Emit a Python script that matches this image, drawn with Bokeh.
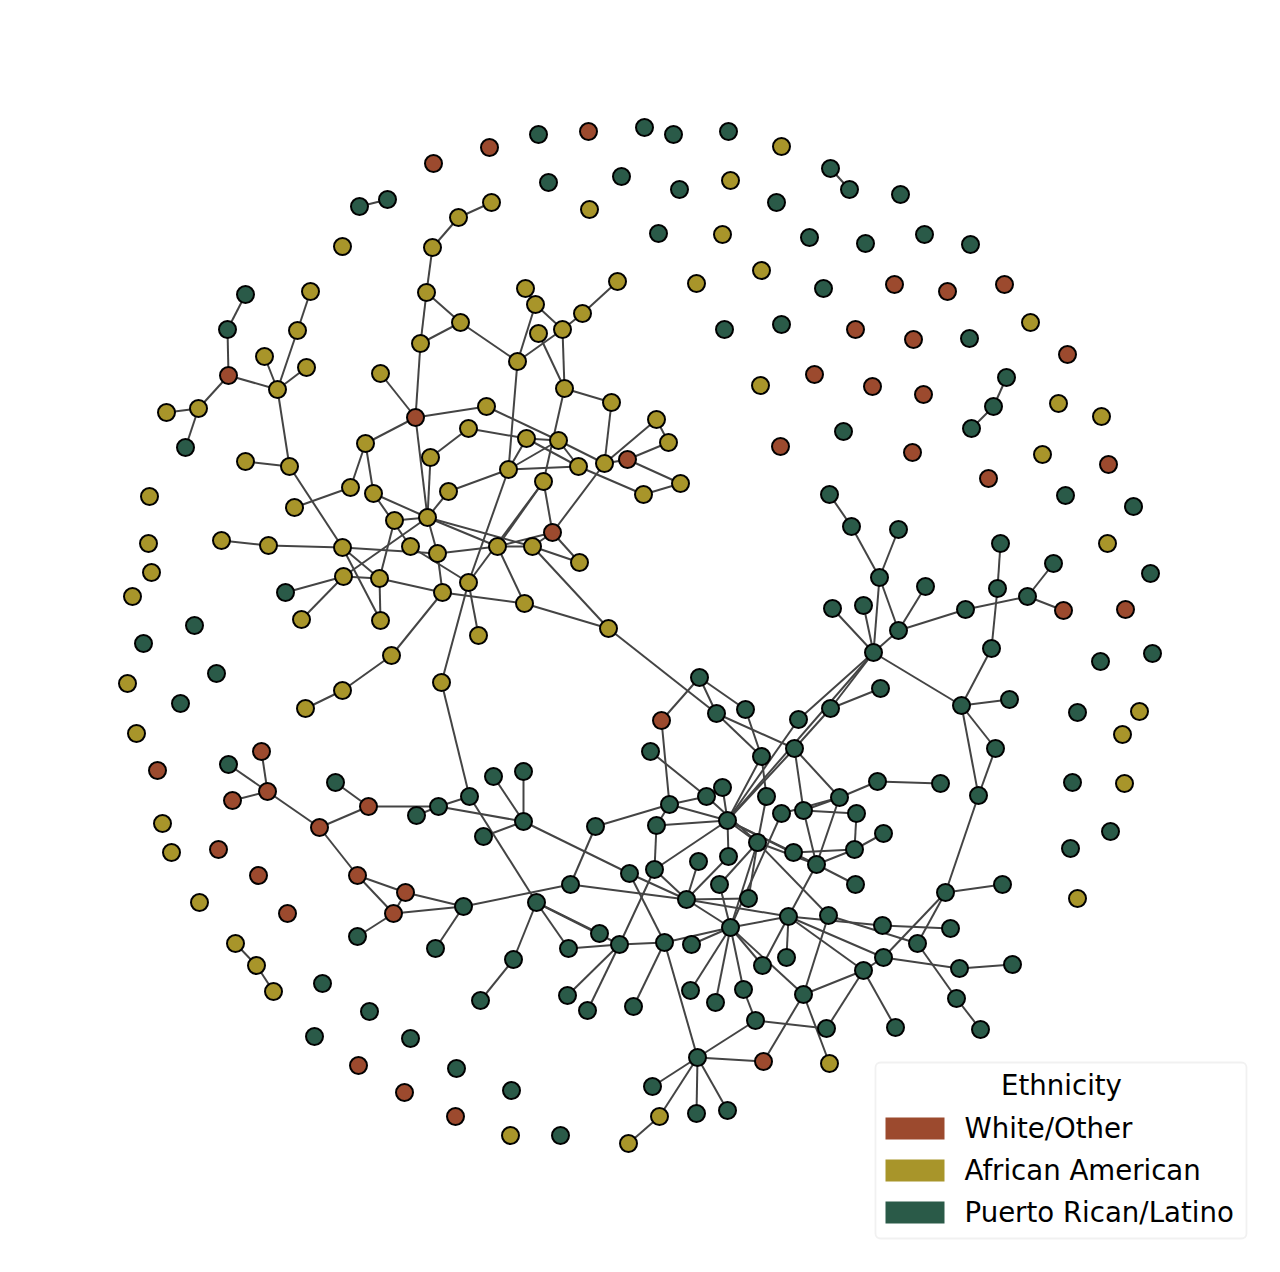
from bokeh.plotting import figure
from bokeh.models import Range1d, BoxAnnotation, Label
from bokeh.embed import file_html
from bokeh.resources import INLINE

# ---- categories / legend ----
eth_labels = ["White/Other", "African American", "Puerto Rican/Latino"]
eth_colors = ["#9c4a2e", "#a8952a", "#2a5a48"]

# ---- node layout (layout coordinates) ----
white_x = [433, 489, 588, 415, 228, 627, 552, 780, 894, 947, 1004, 855, 913, 1067, 814, 872, 923, 912, 1108, 988,
           1063, 1125, 661, 157, 261, 267, 232, 319, 368, 218, 258, 287, 357, 405, 393, 358, 404, 455, 763]
white_y = [163, 147, 131, 417, 375, 459, 532, 446, 284, 291, 284, 329, 339, 354, 374, 386, 394, 452, 464, 478,
           610, 609, 720, 770, 751, 791, 800, 827, 806, 849, 875, 913, 875, 892, 913, 1065, 1092, 1116, 1061]

african_x = [432, 458, 491, 426, 460, 420, 380, 486, 468, 430, 365, 350, 373, 394, 427, 448, 410, 437, 342, 343,
             379, 442, 468, 380, 301, 289, 294, 268, 221, 245, 277, 264, 306, 297, 310, 198, 166, 391, 342, 305,
             441, 478, 524, 497, 532, 579, 608, 508, 526, 558, 578, 604, 543, 643, 680, 656, 668, 611, 564, 517,
             525, 535, 538, 562, 582, 617, 342, 781, 730, 589, 722, 761, 696, 760, 1030, 1058, 1101, 1042, 1107, 1139,
             1122, 1124, 1077, 149, 148, 151, 132, 127, 136, 162, 171, 199, 235, 256, 273, 510, 628, 659, 829]
african_y = [247, 217, 202, 292, 322, 343, 373, 406, 428, 457, 443, 487, 493, 520, 517, 491, 546, 553, 547, 576,
             578, 592, 582, 620, 619, 466, 507, 545, 540, 461, 389, 356, 367, 330, 291, 408, 412, 655, 690, 708,
             682, 635, 603, 546, 546, 562, 628, 469, 438, 440, 466, 463, 481, 494, 483, 419, 442, 402, 388, 361,
             288, 304, 333, 329, 313, 281, 246, 146, 180, 209, 234, 270, 283, 385, 322, 403, 416, 454, 543, 711,
             734, 783, 898, 496, 543, 572, 596, 683, 733, 823, 852, 902, 943, 965, 991, 1135, 1143, 1116, 1063]

latino_x = [359, 387, 538, 644, 673, 728, 548, 621, 679, 776, 658, 724, 781, 830, 849, 900, 809, 865, 924, 970,
            823, 969, 1006, 993, 971, 843, 1065, 1133, 1150, 1100, 1152, 1077, 1072, 1110, 1070, 245, 227, 185, 285, 143,
            194, 216, 180, 228, 335, 322, 369, 314, 410, 456, 511, 560, 652, 696, 727, 438, 416, 469, 493, 523,
            523, 483, 463, 357, 435, 536, 570, 595, 513, 480, 568, 599, 619, 567, 587, 633, 664, 691, 690, 715,
            743, 755, 697, 762, 786, 730, 788, 828, 803, 826, 863, 883, 895, 882, 917, 950, 945, 1002, 959, 1012,
            956, 980, 629, 654, 686, 719, 748, 698, 728, 757, 727, 722, 706, 669, 656, 650, 699, 716, 745, 761,
            794, 798, 830, 880, 766, 781, 803, 839, 877, 940, 856, 854, 883, 793, 816, 855, 829, 851, 898, 879,
            925, 832, 863, 898, 873, 965, 1027, 1053, 1000, 997, 991, 961, 1009, 995, 978]
latino_y = [206, 199, 134, 127, 134, 131, 182, 176, 189, 202, 233, 329, 324, 168, 189, 194, 237, 243, 234, 244,
            288, 338, 377, 406, 428, 431, 495, 506, 573, 661, 653, 712, 782, 831, 848, 294, 329, 447, 592, 643,
            625, 673, 703, 764, 782, 983, 1011, 1036, 1038, 1068, 1090, 1135, 1086, 1113, 1110, 806, 815, 796, 776, 771,
            821, 836, 906, 936, 948, 902, 884, 826, 959, 1000, 948, 933, 944, 995, 1010, 1006, 942, 944, 990, 1002,
            989, 1020, 1057, 965, 957, 927, 916, 915, 994, 1028, 970, 957, 1027, 925, 943, 928, 892, 884, 968, 964,
            998, 1029, 873, 869, 899, 884, 898, 861, 856, 842, 820, 787, 796, 804, 825, 751, 677, 713, 709, 756,
            748, 719, 708, 688, 796, 813, 810, 797, 781, 783, 813, 849, 833, 852, 864, 884, 494, 526, 529, 577,
            586, 608, 605, 630, 652, 609, 596, 563, 543, 588, 648, 705, 699, 748, 795]

# ---- ties between nodes ----
edges = [
    ("P01", "P02"), ("P14", "P15"), ("P23", "P24"), ("P24", "P25"),
    ("A93", "A94"), ("A94", "A95"), ("A97", "A98"), ("A98", "P83"),
    ("A02", "A03"), ("A02", "A01"), ("A01", "A04"), ("A04", "A05"), ("A04", "A06"), ("A06", "A05"),
    ("A05", "A60"), ("A06", "W04"), ("W04", "A07"), ("W04", "A08"), ("W04", "A11"), ("W04", "A15"),
    ("A10", "A09"), ("A10", "A15"), ("A09", "A49"), ("A08", "A50"), ("A11", "A12"), ("A11", "A13"),
    ("A12", "A27"), ("A13", "A15"), ("A13", "A17"), ("A14", "A15"), ("A14", "A21"),
    ("A15", "A16"), ("A15", "A20"), ("A15", "A18"), ("A15", "A44"), ("A15", "A45"), ("A16", "A48"),
    ("A17", "A23"), ("A18", "A22"), ("A18", "A44"), ("A19", "A18"),
    ("A19", "A28"), ("A28", "A29"), ("A19", "A26"), ("A19", "A21"), ("A19", "A24"),
    ("A20", "P39"), ("A20", "A25"), ("A20", "A21"), ("A21", "A22"), ("A21", "A24"),
    ("A22", "A43"), ("A22", "A38"), ("A38", "A39"), ("A39", "A40"),
    ("A23", "A41"), ("A23", "A42"), ("A23", "A53"), ("A23", "A48"), ("A41", "P58"),
    ("A26", "A30"), ("A26", "A31"), ("A31", "W05"), ("A31", "A32"), ("A31", "A33"), ("A31", "A34"),
    ("A34", "A35"), ("W05", "P37"), ("P37", "P36"), ("W05", "A36"), ("A36", "A37"), ("A36", "P38"),
    ("A48", "A60"), ("A48", "A49"), ("A48", "A50"), ("A48", "A51"), ("A49", "A50"), ("A49", "A51"),
    ("A50", "A51"), ("A50", "A52"), ("A51", "A54"), ("A53", "A59"), ("A53", "A44"), ("A53", "W07"),
    ("A52", "A58"), ("A52", "W07"), ("A52", "W06"), ("A52", "A56"), ("W06", "A57"), ("W06", "A55"),
    ("A54", "A55"), ("A56", "A57"), ("W07", "A44"), ("W07", "A45"), ("W07", "A46"),
    ("A44", "A45"), ("A44", "A43"), ("A45", "A46"), ("A45", "A47"), ("A43", "A47"), ("A47", "P118"),
    ("A59", "A63"), ("A59", "A64"), ("A59", "A58"), ("A60", "A62"), ("A60", "A64"),
    ("A61", "A62"), ("A62", "A64"), ("A64", "A65"), ("A65", "A66"),
    ("P44", "W26"), ("W25", "W26"), ("W27", "W26"), ("W26", "W28"), ("W28", "W29"), ("P45", "W29"),
    ("W29", "P56"), ("P57", "P56"), ("P56", "P58"), ("P56", "P61"), ("P59", "P61"), ("P60", "P61"),
    ("P62", "P61"), ("P61", "P103"), ("P58", "P66"), ("W28", "W33"), ("W33", "W34"), ("W33", "W35"),
    ("W34", "W35"), ("W34", "P63"), ("W35", "P63"), ("P64", "W35"), ("P63", "P65"), ("P63", "P67"),
    ("P66", "P72"), ("P66", "P73"), ("P66", "P71"), ("P66", "P69"), ("P71", "P73"), ("P69", "P70"),
    ("P73", "P74"), ("P73", "P75"), ("P73", "P104"), ("P73", "P77"), ("P67", "P68"), ("P67", "P105"),
    ("P68", "P114"),
    ("P103", "P105"), ("P103", "P77"), ("P104", "P105"), ("P104", "P115"), ("P104", "P111"),
    ("P77", "P76"), ("P77", "P83"), ("P77", "P86"),
    ("P105", "P108"), ("P105", "P109"), ("P105", "P107"), ("P105", "P86"), ("P105", "P87"),
    ("P86", "P106"), ("P86", "P78"), ("P86", "P79"), ("P86", "P80"), ("P86", "P81"), ("P86", "P84"),
    ("P86", "P87"), ("P86", "P89"), ("P86", "P110"), ("P86", "P126"),
    ("P87", "P84"), ("P87", "P85"), ("P87", "P94"), ("P87", "P91"), ("P87", "P92"), ("P87", "P135"),
    ("P88", "P89"), ("P88", "P95"), ("P88", "P110"),
    ("P89", "W39"), ("P89", "A99"), ("P89", "P91"), ("P90", "P82"), ("P90", "P91"),
    ("P82", "P81"), ("P82", "P83"), ("P83", "W39"), ("P83", "P53"), ("P83", "P54"), ("P83", "P55"),
    ("P91", "P92"), ("P91", "P93"), ("P92", "P97"), ("P92", "P99"), ("P99", "P100"), ("P94", "P96"),
    ("P95", "P97"), ("P95", "P101"), ("P101", "P102"), ("P97", "P98"), ("P97", "P155"),
    ("P117", "W23"), ("P117", "P118"), ("P117", "P119"), ("W23", "P114"),
    ("P118", "P120"), ("P118", "P121"), ("P119", "P120"), ("P120", "P111"),
    ("P122", "P145"), ("P122", "P111"), ("P123", "P145"), ("P123", "P124"), ("P123", "P121"),
    ("P121", "P127"), ("P121", "P128"), ("P121", "P111"),
    ("P116", "P113"), ("P113", "P114"), ("P113", "P110"), ("P112", "P111"),
    ("P114", "P111"), ("P114", "P115"), ("P115", "P111"), ("P125", "P110"), ("P125", "P120"),
    ("P126", "P128"), ("P127", "P131"), ("P127", "P135"), ("P127", "P128"),
    ("P128", "P129"), ("P128", "P135"), ("P129", "P130"), ("P131", "P132"),
    ("P132", "P133"), ("P132", "P134"), ("P132", "P135"), ("P135", "P136"), ("P135", "P110"),
    ("P135", "P111"), ("P110", "P111"), ("P110", "P106"), ("P110", "P107"),
    ("P111", "P134"), ("P111", "P109"), ("P111", "P145"),
    ("P137", "P138"), ("P138", "P140"), ("P139", "P140"), ("P140", "P145"), ("P140", "P144"),
    ("P141", "P144"), ("P142", "P145"), ("P143", "P145"), ("P144", "P145"), ("P144", "P146"),
    ("P146", "P147"), ("P147", "P148"), ("P147", "W21"), ("P149", "P150"), ("P150", "P151"),
    ("P151", "P152"), ("P145", "P152"), ("P152", "P153"), ("P152", "P154"), ("P152", "P155"),
    ("P154", "P155"),
]

# ---- build lookup ----
groups = [("W", white_x, white_y), ("A", african_x, african_y), ("P", latino_x, latino_y)]
pos = {}
for code, xs, ys in groups:
    for i, (xv, yv) in enumerate(zip(xs, ys)):
        pos[f"{code}{i + 1:02d}"] = (xv, yv)

x0 = [pos[a][0] for a, b in edges]
y0 = [pos[a][1] for a, b in edges]
x1 = [pos[b][0] for a, b in edges]
y1 = [pos[b][1] for a, b in edges]

p = figure(width=1264, height=1256, output_backend="svg", toolbar_location=None,
           x_range=Range1d(0, 1264), y_range=Range1d(1256, 0),
           x_axis_location=None, y_axis_location=None, min_border=0)
p.outline_line_color = None
p.xgrid.visible = False
p.ygrid.visible = False
p.background_fill_color = "white"

p.segment(x0=x0, y0=y0, x1=x1, y1=y1, line_color="#444444", line_width=2.0)

for (code, xs, ys), col in zip(groups, eth_colors):
    p.scatter(x=xs, y=ys, size=17, fill_color=col, line_color="black", line_width=2.0)

# ---- legend ----
font = "DejaVu Sans"
fs = "27.6px"
p.add_layout(BoxAnnotation(left=875, right=1246, top=1062, bottom=1238,
                           fill_color="white", fill_alpha=0.8, line_color="#cfcfcf",
                           line_width=1.8, border_radius=5, editable=False))
p.add_layout(Label(x=1061, y=1085, text="Ethnicity", text_align="center",
                   text_baseline="alphabetic", text_font=font, text_font_size=fs,
                   text_color="black"))
for i, (lab, col) in enumerate(zip(eth_labels, eth_colors)):
    top = 1117 + i * 42
    p.add_layout(BoxAnnotation(left=885, right=944, top=top, bottom=top + 22,
                               fill_color=col, fill_alpha=1.0, line_color=None, editable=False))
    p.add_layout(Label(x=964, y=top + 11, text=lab, text_align="left",
                       text_baseline="alphabetic", text_font=font, text_font_size=fs,
                       text_color="black"))

open("out.html", "w").write(file_html(p, INLINE))
